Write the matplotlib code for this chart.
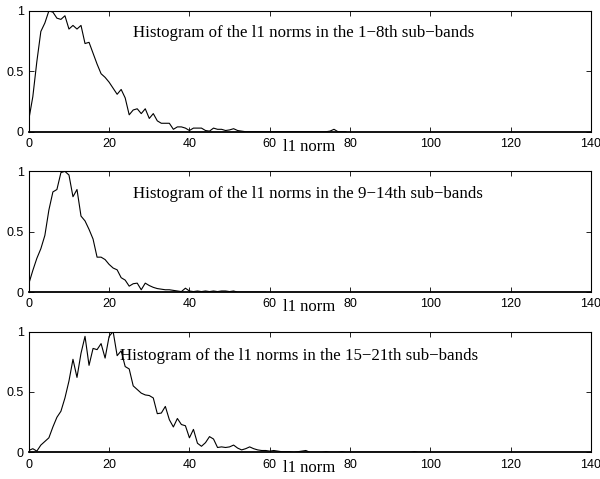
import matplotlib
matplotlib.use('Agg')
import matplotlib.pyplot as plt

# histogram values, bins of width 1 starting at 0
hist_1_8 = [0.10, 0.29, 0.58, 0.83, 0.90, 1.00, 0.99, 0.94, 0.93, 0.96,
            0.85, 0.88, 0.85, 0.88, 0.73, 0.74, 0.65, 0.56, 0.48, 0.45,
            0.41, 0.36, 0.31, 0.35, 0.28, 0.14, 0.18, 0.19, 0.15, 0.19,
            0.11, 0.15, 0.09, 0.07, 0.07, 0.07, 0.02, 0.04, 0.04, 0.03,
            0.01, 0.03, 0.03, 0.03, 0.01, 0.005, 0.03, 0.02, 0.02, 0.01,
            0.015, 0.025, 0.01, 0.005, 0.0, 0.0, 0.0, 0.0, 0.0, 0.0,
            0.0, 0.0, 0.0, 0.0, 0.0, 0.0, 0.0, 0.0, 0.0, 0.0,
            0.0, 0.0, 0.0, 0.0, 0.0, 0.005, 0.02, 0.0, 0.0, 0.0]

hist_9_14 = [0.07, 0.18, 0.28, 0.36, 0.47, 0.68, 0.83, 0.85, 0.99, 1.00,
             0.97, 0.79, 0.85, 0.63, 0.59, 0.52, 0.44, 0.29, 0.29, 0.27,
             0.23, 0.20, 0.185, 0.12, 0.10, 0.05, 0.07, 0.075, 0.02, 0.075,
             0.055, 0.04, 0.03, 0.025, 0.02, 0.02, 0.015, 0.01, 0.005, 0.033,
             0.01, 0.005, 0.01, 0.005, 0.01, 0.005, 0.01, 0.005, 0.01, 0.01,
             0.005, 0.01, 0.0, 0.0, 0.0, 0.0, 0.0, 0.0, 0.0, 0.0]

hist_15_21 = [0.015, 0.03, 0.01, 0.06, 0.09, 0.12, 0.21, 0.29, 0.34, 0.45,
              0.59, 0.77, 0.62, 0.82, 0.96, 0.72, 0.86, 0.85, 0.90, 0.78,
              0.96, 1.00, 0.80, 0.84, 0.71, 0.69, 0.55, 0.52, 0.49, 0.475,
              0.47, 0.45, 0.32, 0.325, 0.38, 0.27, 0.21, 0.28, 0.23, 0.22,
              0.12, 0.19, 0.075, 0.05, 0.08, 0.13, 0.11, 0.04, 0.045, 0.04,
              0.045, 0.06, 0.035, 0.02, 0.03, 0.045, 0.03, 0.02, 0.015, 0.015,
              0.01, 0.015, 0.01, 0.005, 0.005, 0.005, 0.0, 0.005, 0.01, 0.015,
              0.0, 0.0, 0.0, 0.0, 0.005, 0.0, 0.0, 0.0, 0.005, 0.0,
              0.0, 0.0, 0.0, 0.0, 0.0, 0.0, 0.0, 0.0, 0.0, 0.0,
              0.0, 0.0, 0.0, 0.0, 0.0, 0.0, 0.005, 0.0, 0.0, 0.0]

titles = ['Histogram of the l1 norms in the 1\u22128th sub\u2212bands',
          'Histogram of the l1 norms in the 9\u221214th sub\u2212bands',
          'Histogram of the l1 norms in the 15\u221221th sub\u2212bands']
text_pos = [(25.9, 0.815), (25.9, 0.815), (22.7, 0.795)]
xticks = [0, 20, 40, 60, 80, 100, 120, 140]
yticks = [0, 0.5, 1]
ytick_labels = ['0', '0.5', '1']

fig = plt.figure(figsize=(6.0, 4.79), dpi=100)
bottoms = [0.725, 0.390, 0.0557]
series = [hist_1_8, hist_9_14, hist_15_21]

for i in range(3):
    ax = fig.add_axes([0.048, bottoms[i], 0.937, 0.2522])
    h = series[i]
    ax.plot(range(len(h)), h, color='black', linewidth=0.8)
    ax.set_xlim(0, 140)
    ax.set_ylim(0, 1)
    ax.set_xticks(xticks)
    ax.set_yticks(yticks)
    ax.set_yticklabels(ytick_labels)
    ax.tick_params(direction='in', top=True, right=True, length=3.5,
                   width=0.6, labelsize=9)
    ax.tick_params(axis='x', pad=4.5)
    ax.tick_params(axis='y', pad=3.5)
    for lab in ax.get_xticklabels() + ax.get_yticklabels():
        lab.set_family('Liberation Sans')
    for sp in ax.spines.values():
        sp.set_linewidth(0.8)
    ax.spines['bottom'].set_linewidth(1.3)
    ax.text(text_pos[i][0], text_pos[i][1], titles[i], family='Liberation Serif',
            fontsize=12.2, va='center', ha='left')
    ax.set_xlabel('l1 norm', family='Liberation Serif', fontsize=12)
    ax.xaxis.set_label_coords(0.498, -0.06)

fig.savefig('out.png', dpi=100)
